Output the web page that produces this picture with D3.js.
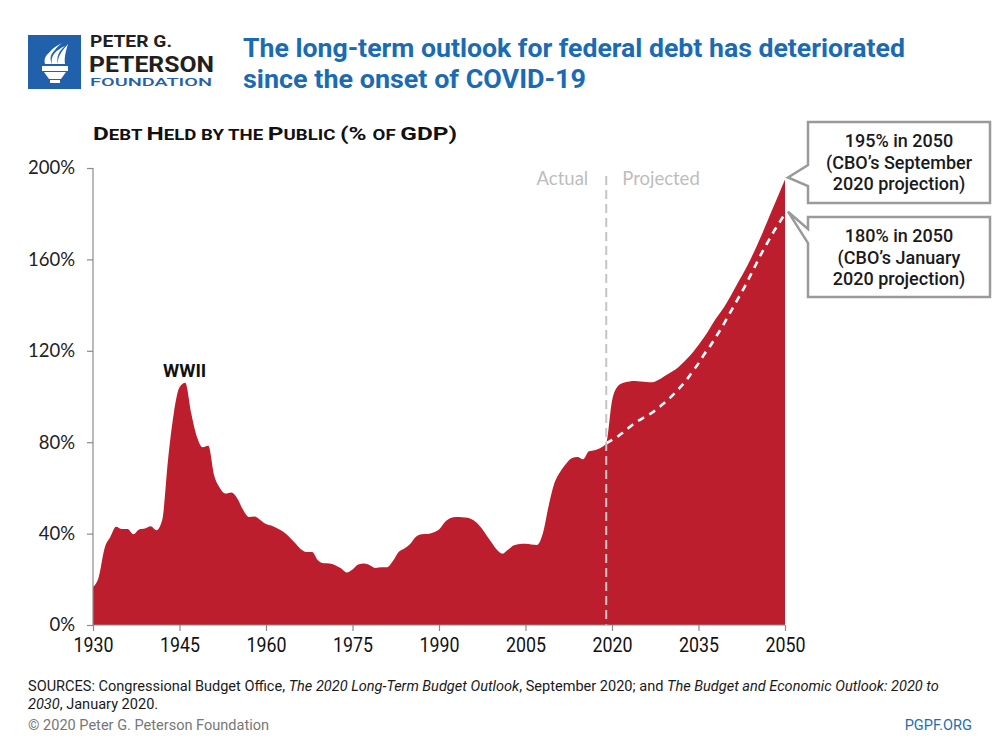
<!DOCTYPE html>
<html>
<head>
<meta charset="utf-8">
<script src="https://cdn.jsdelivr.net/npm/d3@7"></script>
<style>
  html, body { margin: 0; padding: 0; background: #fff; }
  svg { display: block; }
</style>
</head>
<body>
<svg id="chart" width="1000" height="750"></svg>
<script>
// ---------------- DATA ----------------
const actualStartYear = 1930;
const actualValues = [
  16.6, 21, 33.5, 38.5, 43, 42, 42, 39.7, 41.8, 42.2,          // 1930-1939
  43.2, 41.5, 46, 72, 92.5, 104, 106, 93, 82.5, 77.8,          // 1940-1949
  78.5, 65.5, 60, 57.5, 58, 55.5, 50.5, 47.3, 47.5, 46,        // 1950-1959
  44.2, 43.4, 42.2, 40.8, 38.6, 36, 33.3, 32, 32, 28.3,        // 1960-1969
  27, 26.9, 26.2, 24.8, 23, 24.3, 26.5, 26.9, 26.2, 25,        // 1970-1979
  25.3, 25.3, 28, 32, 33.5, 35.5, 38.6, 39.7, 39.8, 40.5,      // 1980-1989
  41.8, 45, 46.8, 47.3, 47.2, 46.9, 45.8, 43.5, 40.2, 36.5,    // 1990-1999
  33, 31.2, 33, 34.9, 35.5, 35.6, 35.2, 35, 40, 52,            // 2000-2009
  62, 67, 70.5, 73, 73.5, 72.5, 76, 76.5, 77.5, 79.5           // 2010-2019
];
const projStartYear = 2019;
// CBO September 2020 long-term projection (2019-2050)
const septProjection = [
  79.5, 98, 104.5, 106, 106.6, 106.8, 106.6, 106.3, 106.2, 107.2, 108.8,   // 2019-2029
  110.3, 111.8, 114, 116.5, 119.3, 122.5, 126, 130, 134, 137.5,            // 2030-2039
  141.5, 146, 150.5, 155, 160, 165.3, 171, 177, 183, 189, 195              // 2040-2050
];
// CBO January 2020 projection (2019-2050)
const janProjection = [
  79.5, 81, 82.5, 84.5, 86.5, 88.5, 90, 91.5, 93, 95, 97,                  // 2019-2029
  99.3, 101.8, 104.5, 107.5, 111, 114.5, 118.5, 122, 126, 130,             // 2030-2039
  134.5, 139, 143.5, 148, 153, 158, 163, 167.5, 172, 176, 180              // 2040-2050
];
const xTickYears = [1930, 1945, 1960, 1975, 1990, 2005, 2020, 2035, 2050];
const yTickValues = [0, 40, 80, 120, 160, 200];
const actualEndYear = 2019;

// ---------------- SETUP ----------------
const svg = d3.select("#chart");
const RED = "#bd1e2d";
const BLUE = "#1a6bb4";

const x = d3.scaleLinear().domain([1930, 2050]).range([93, 785]);
const y = d3.scaleLinear().domain([0, 200]).range([625, 168]);

const actualData = actualValues.map((v, i) => ({year: actualStartYear + i, value: v}));
const septData = septProjection.map((v, i) => ({year: projStartYear + i, value: v}));
const janData = janProjection.map((v, i) => ({year: projStartYear + i, value: v}));
const fullData = actualData.concat(septData.slice(1));

// ---------------- HEADER ----------------
const logo = svg.append("g");
logo.append("rect").attr("x", 28).attr("y", 35).attr("width", 53).attr("height", 54).attr("fill", "#2160ab");
// torch
logo.append("rect").attr("x", 42).attr("y", 66).attr("width", 26).attr("height", 5).attr("fill", "#fff");
logo.append("path").attr("d", "M44,72 L66,72 L61,79 L49,79 Z").attr("fill", "#fff");
logo.append("rect").attr("x", 50).attr("y", 80).attr("width", 10).attr("height", 3).attr("fill", "#fff");
logo.append("path").attr("d", "M45,64 C43,57 48,52 56,49 C51,53 49,58 52,64 Z").attr("fill", "#fff");
logo.append("path").attr("d", "M52,64 C50,56 56,50 65,46 C59,51 56,57 58,64 Z").attr("fill", "#fff");
logo.append("path").attr("d", "M58,64 C57,56 63,50 68,44 C66,51 64,57 65,64 Z").attr("fill", "#fff");
logo.append("path").attr("d", "M48,55 C50,50 56,46 62,43 C57,47 53,51 50,56 Z").attr("fill", "#fff");

function fitText(sel, w) {
  const n = sel.node();
  const len = n.getComputedTextLength();
  if (len > 0) sel.attr("textLength", w).attr("lengthAdjust", "spacingAndGlyphs");
}

const t1 = logo.append("text").attr("x", 90).attr("y", 47).attr("font-family", "Roboto, sans-serif")
  .attr("font-weight", 700).attr("font-size", 16).attr("fill", "#231f20").text("PETER G.");
fitText(t1, 82);
const t2 = logo.append("text").attr("x", 89).attr("y", 71.5).attr("font-family", "Roboto, sans-serif")
  .attr("font-weight", 700).attr("font-size", 22).attr("fill", "#231f20").text("PETERSON");
fitText(t2, 125);
const t3 = logo.append("text").attr("x", 90).attr("y", 86).attr("font-family", "Roboto, sans-serif")
  .attr("font-weight", 500).attr("font-size", 11.5).attr("fill", "#2160ab").text("FOUNDATION");
fitText(t3, 122);

const title1 = svg.append("text").attr("x", 243).attr("y", 57).attr("font-family", "Roboto, sans-serif")
  .attr("font-weight", 700).attr("font-size", 25).attr("fill", BLUE)
  .text("The long-term outlook for federal debt has deteriorated");
fitText(title1, 662);
const title2 = svg.append("text").attr("x", 243).attr("y", 88).attr("font-family", "Roboto, sans-serif")
  .attr("font-weight", 700).attr("font-size", 25).attr("fill", BLUE)
  .text("since the onset of COVID-19");
fitText(title2, 343);

// Y axis label in small caps
const yl = svg.append("text").attr("x", 93).attr("y", 140).attr("font-family", "Roboto, sans-serif")
  .attr("font-weight", 700).attr("fill", "#111");
[["D",19],["EBT ",14.5],["H",19],["ELD BY THE ",14.5],["P",19],["UBLIC ",14.5],["(% ",19],["OF ",14.5],["GDP)",19]]
  .forEach(([s, fs]) => yl.append("tspan").attr("font-size", fs).text(s));
fitText(yl, 364);

// ---------------- CHART ----------------
const area = d3.area()
  .x(d => x(d.year))
  .y0(y(0))
  .y1(d => y(d.value))
  .curve(d3.curveMonotoneX);

svg.append("path").datum(fullData).attr("d", area).attr("fill", RED);

// January projection dashed line
const line = d3.line().x(d => x(d.year)).y(d => y(d.value)).curve(d3.curveMonotoneX);
svg.append("path").datum(janData).attr("d", line)
  .attr("fill", "none").attr("stroke", "#fff").attr("stroke-width", 2.6)
  .attr("stroke-dasharray", "7,6");

// Actual / Projected divider
svg.append("line").attr("x1", x(actualEndYear)).attr("x2", x(actualEndYear))
  .attr("y1", 176).attr("y2", y(0))
  .attr("stroke", "#c4c4c4").attr("stroke-width", 2).attr("stroke-dasharray", "9,5");
svg.append("text").attr("x", x(actualEndYear) - 18).attr("y", 185).attr("text-anchor", "end")
  .attr("font-family", "Lato, sans-serif").attr("font-size", 18.5).attr("fill", "#bdbdbd").text("Actual");
svg.append("text").attr("x", x(actualEndYear) + 16).attr("y", 185)
  .attr("font-family", "Lato, sans-serif").attr("font-size", 18.5).attr("fill", "#bdbdbd").text("Projected");

// Axes
const yAxis = d3.axisLeft(y).tickValues(yTickValues).tickFormat(d => d + "%").tickSize(6).tickPadding(12);
const yG = svg.append("g").attr("transform", "translate(93,0)").call(yAxis);
yG.select(".domain").attr("stroke", "#8a8a8a").attr("stroke-width", 1.2).attr("d", "M0,168V625");
yG.selectAll(".tick line").attr("stroke", "#8a8a8a").attr("stroke-width", 1.2);
yG.selectAll(".tick text").attr("font-family", "Lato, sans-serif").attr("font-size", 18.5).attr("fill", "#222");

const xAxis = d3.axisBottom(x).tickValues(xTickYears).tickFormat(d3.format("d")).tickSize(6).tickPadding(6);
const xG = svg.append("g").attr("transform", "translate(0,625)").call(xAxis);
xG.select(".domain").attr("stroke", "#8a8a8a").attr("stroke-width", 1.2).attr("d", "M93,0H785");
xG.selectAll(".tick line").attr("stroke", "#8a8a8a").attr("stroke-width", 1.2);
xG.selectAll(".tick text").attr("font-family", "Roboto, sans-serif").attr("font-size", 20).attr("fill", "#111")
  .attr("dy", "0.75em")
  .attr("textLength", 40).attr("lengthAdjust", "spacingAndGlyphs");

// WWII annotation
svg.append("text").attr("x", x(1945.9)).attr("y", 377).attr("text-anchor", "middle")
  .attr("font-family", "Roboto, sans-serif").attr("font-weight", 700).attr("font-size", 18.5)
  .attr("fill", "#111").text("WWII");

// ---------------- CALLOUTS ----------------
const callouts = [
  {tipYear: 2050, tipValue: 195, box: [808, 122, 990, 203], base: [165, 186], lines: ["195% in 2050", "(CBO’s September", "2020 projection)"]},
  {tipYear: 2050, tipValue: 180, box: [808, 217, 990, 297], base: [229, 243], lines: ["180% in 2050", "(CBO’s January", "2020 projection)"]}
];
callouts.forEach(c => {
  const [x0, y0, x1, y1] = c.box;
  const tx = x(c.tipYear) + 3, ty = y(c.tipValue) - 2;
  const d = `M${x0},${y0} H${x1} V${y1} H${x0} V${c.base[1]} L${tx},${ty} L${x0},${c.base[0]} Z`;
  svg.append("path").attr("d", d).attr("fill", "#fff").attr("stroke", "#9a9a9a").attr("stroke-width", 2.5)
    .attr("stroke-linejoin", "miter");
  const cx = (x0 + x1) / 2;
  c.lines.forEach((s, i) => {
    svg.append("text").attr("x", cx).attr("y", y0 + 25 + i * 21.5).attr("text-anchor", "middle")
      .attr("font-family", "Roboto, sans-serif").attr("font-weight", 500).attr("font-size", 18)
      .attr("fill", "#1a1a1a").text(s);
  });
});

// ---------------- FOOTER ----------------
const foot = svg.append("g");
const f1 = foot.append("text").attr("x", 28).attr("y", 691).attr("font-family", "Roboto, sans-serif")
  .attr("font-size", 14).attr("fill", "#1a1a1a");
f1.append("tspan").text("SOURCES: Congressional Budget Office, ");
f1.append("tspan").attr("font-style", "italic").text("The 2020 Long-Term Budget Outlook");
f1.append("tspan").text(", September 2020; and ");
f1.append("tspan").attr("font-style", "italic").text("The Budget and Economic Outlook: 2020 to");
const natural = f1.node().getComputedTextLength();
const sx = 912 / natural;
f1.attr("transform", `translate(28,0) scale(${sx},1) translate(-28,0)`);

const f2 = foot.append("text").attr("x", 28).attr("y", 709).attr("font-family", "Roboto, sans-serif")
  .attr("font-size", 14).attr("fill", "#1a1a1a")
  .attr("transform", `translate(28,0) scale(${sx},1) translate(-28,0)`);
f2.append("tspan").attr("font-style", "italic").text("2030");
f2.append("tspan").text(", January 2020.");

foot.append("text").attr("x", 28).attr("y", 730).attr("font-family", "Roboto, sans-serif")
  .attr("font-size", 14).attr("fill", "#777")
  .attr("transform", `translate(28,0) scale(${sx},1) translate(-28,0)`)
  .text("© 2020 Peter G. Peterson Foundation");
foot.append("text").attr("x", 972).attr("y", 730).attr("text-anchor", "end").attr("font-family", "Roboto, sans-serif")
  .attr("font-size", 14).attr("fill", "#1f6db5")
  .attr("transform", `translate(972,0) scale(${sx},1) translate(-972,0)`)
  .text("PGPF.ORG");
</script>
</body>
</html>
